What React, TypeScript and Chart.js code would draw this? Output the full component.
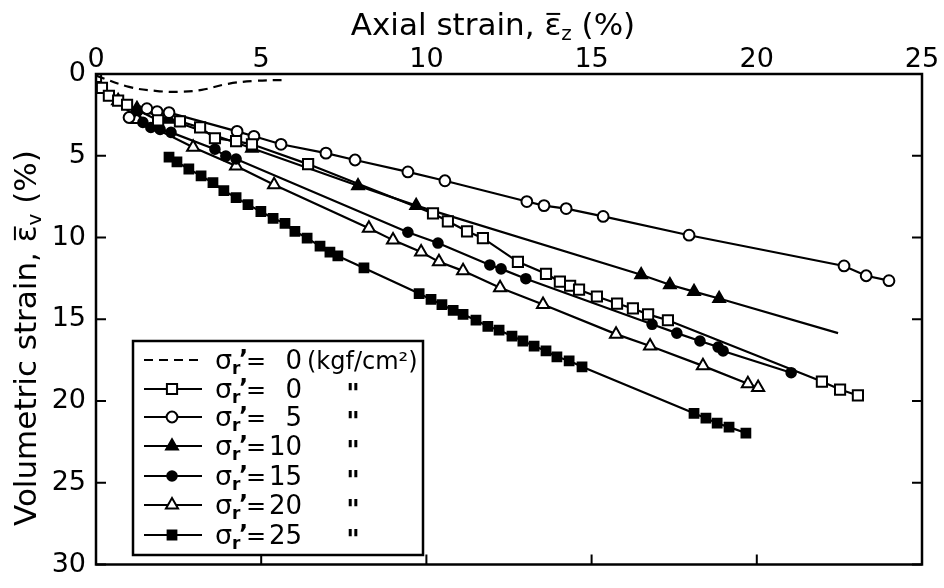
import React, { useEffect, useRef } from "react";
import { Chart, registerables } from "chart.js";
import { drawPoint } from "chart.js/helpers";

Chart.register(...registerables);

// Axial strain (%) and volumetric strain (%) per confining stress σr'
const dashAxial = [0, 1.0, 1.8, 2.5, 3.2, 4.0, 4.8, 5.8];
const dashVol = [0.1, 0.79, 1.03, 1.09, 0.97, 0.6, 0.42, 0.36];

const s0Axial = [0, 0.18, 0.39, 0.67, 0.94, 1.88, 2.54, 3.15, 3.6, 4.24, 4.72, 6.42, 10.2, 10.65, 11.23, 11.71, 12.77, 13.62, 14.04, 14.35, 14.62, 15.16, 15.77, 16.25, 16.71, 17.31, 21.97, 22.52, 23.06];
const s0Vol = [0.18, 0.85, 1.33, 1.63, 1.88, 2.84, 2.9, 3.27, 3.93, 4.11, 4.3, 5.51, 8.53, 9.01, 9.62, 10.04, 11.49, 12.22, 12.7, 12.95, 13.19, 13.61, 14.04, 14.34, 14.7, 15.06, 18.81, 19.3, 19.66];

const s5Axial = [1.0, 1.54, 1.85, 2.21, 4.27, 4.78, 5.6, 6.96, 7.84, 9.44, 10.56, 13.04, 13.56, 14.23, 15.35, 17.95, 22.64, 23.31, 24.0];
const s5Vol = [2.66, 2.12, 2.3, 2.36, 3.51, 3.81, 4.3, 4.84, 5.26, 5.99, 6.53, 7.8, 8.05, 8.23, 8.71, 9.86, 11.74, 12.34, 12.64];

// last entry is the end of the drawn line, without a marker
const s10Axial = [1.24, 2.21, 4.72, 7.93, 9.69, 16.5, 17.37, 18.1, 18.86, 22.46];
const s10Vol = [2.12, 2.78, 4.54, 6.84, 8.05, 12.28, 12.89, 13.31, 13.73, 15.85];

const s15Axial = [1.27, 1.42, 1.66, 1.94, 2.27, 3.6, 3.93, 4.24, 9.44, 10.35, 11.92, 12.26, 13.01, 16.83, 17.58, 18.28, 18.83, 18.98, 21.04];
const s15Vol = [2.24, 2.96, 3.27, 3.39, 3.57, 4.6, 5.02, 5.2, 9.68, 10.34, 11.68, 11.92, 12.52, 15.31, 15.85, 16.33, 16.7, 16.94, 18.27];

const s20Axial = [0.67, 1.24, 2.94, 4.24, 5.39, 8.26, 8.99, 9.84, 10.38, 11.11, 12.23, 13.53, 15.74, 16.77, 18.37, 19.73, 20.04];
const s20Vol = [1.63, 2.78, 4.48, 5.63, 6.78, 9.44, 10.16, 10.89, 11.49, 12.04, 13.07, 14.1, 15.91, 16.64, 17.85, 18.94, 19.18];

const s25Axial = [2.21, 2.45, 2.81, 3.18, 3.54, 3.87, 4.24, 4.6, 4.99, 5.36, 5.72, 6.02, 6.39, 6.78, 7.08, 7.32, 8.11, 9.78, 10.14, 10.47, 10.81, 11.11, 11.5, 11.86, 12.2, 12.59, 12.92, 13.26, 13.62, 13.95, 14.32, 14.71, 18.1, 18.46, 18.8, 19.16, 19.67];
const s25Vol = [5.08, 5.38, 5.81, 6.23, 6.65, 7.14, 7.56, 7.99, 8.41, 8.83, 9.14, 9.62, 10.04, 10.53, 10.89, 11.13, 11.86, 13.43, 13.79, 14.1, 14.46, 14.7, 15.06, 15.43, 15.67, 16.03, 16.33, 16.64, 16.94, 17.3, 17.54, 17.91, 20.75, 21.05, 21.36, 21.6, 21.96];

const xTicks = [0, 5, 10, 15, 20, 25];
const yTicks = [0, 5, 10, 15, 20, 25, 30];

const legendValues = ["0", "0", "5", "10", "15", "20", "25"];

const FONT = "'DejaVu Sans', sans-serif";

const pts = (ax: number[], v: number[]) => ax.map((x, i) => ({ x, y: v[i] }));

type Marker = { style: string; radius: number; filled: boolean };
const markers: (Marker | null)[] = [
  null,
  { style: "rect", radius: 7.2, filled: false },
  { style: "circle", radius: 5.4, filled: false },
  { style: "triangle", radius: 6.8, filled: true },
  { style: "circle", radius: 4.8, filled: true },
  { style: "triangle", radius: 7, filled: false },
  { style: "rect", radius: 6.2, filled: true },
];

type Run = { t: string; size: number; dy?: number; bar?: boolean };

function drawRuns(ctx: CanvasRenderingContext2D, runs: Run[], cx: number, y: number) {
  let total = 0;
  for (const r of runs) {
    ctx.font = `${r.size}px ${FONT}`;
    total += ctx.measureText(r.t).width;
  }
  let x = cx - total / 2;
  ctx.textAlign = "left";
  ctx.textBaseline = "alphabetic";
  for (const r of runs) {
    ctx.font = `${r.size}px ${FONT}`;
    const w = ctx.measureText(r.t).width;
    ctx.fillText(r.t, x, y + (r.dy || 0));
    if (r.bar) {
      ctx.save();
      ctx.lineWidth = 2;
      ctx.beginPath();
      ctx.moveTo(x + 2, y - r.size * 0.68);
      ctx.lineTo(x + w - 1, y - r.size * 0.68);
      ctx.stroke();
      ctx.restore();
    }
    x += w;
  }
}

const decorations = {
  id: "decorations",
  afterDraw(chart: any) {
    const { ctx, chartArea: a, scales } = chart;
    ctx.save();
    ctx.strokeStyle = "#000";
    ctx.fillStyle = "#000";

    // frame and inward ticks
    ctx.lineWidth = 2.5;
    ctx.strokeRect(a.left, a.top, a.right - a.left, a.bottom - a.top);
    ctx.lineWidth = 2;
    ctx.beginPath();
    for (const v of xTicks) {
      const px = scales.x.getPixelForValue(v);
      ctx.moveTo(px, a.bottom);
      ctx.lineTo(px, a.bottom - 10);
    }
    for (const v of yTicks) {
      const py = scales.y.getPixelForValue(v);
      ctx.moveTo(a.left, py);
      ctx.lineTo(a.left + 10, py);
      ctx.moveTo(a.right, py);
      ctx.lineTo(a.right - 10, py);
    }
    ctx.stroke();

    // axis titles
    drawRuns(
      ctx,
      [
        { t: "Axial strain, ", size: 31 },
        { t: "ε", size: 31, bar: true },
        { t: "z", size: 20, dy: 5 },
        { t: " (%)", size: 31 },
      ],
      493,
      35
    );
    ctx.save();
    ctx.translate(36, 338);
    ctx.rotate(-Math.PI / 2);
    drawRuns(
      ctx,
      [
        { t: "Volumetric strain, ", size: 31 },
        { t: "ε", size: 31, bar: true },
        { t: "v", size: 20, dy: 5 },
        { t: " (%)", size: 31 },
      ],
      0,
      0
    );
    ctx.restore();

    // legend
    const bx = 133, by = 341, bw = 290, bh = 214;
    ctx.fillStyle = "#fff";
    ctx.fillRect(bx, by, bw, bh);
    ctx.fillStyle = "#000";
    ctx.lineWidth = 2.5;
    ctx.strokeRect(bx, by, bw, bh);
    const rows = [360, 389, 417, 446, 476, 505, 535];
    rows.forEach((ry, i) => {
      ctx.lineWidth = 2.2;
      ctx.beginPath();
      ctx.setLineDash(i === 0 ? [9, 6] : []);
      ctx.moveTo(144, ry);
      ctx.lineTo(202, ry);
      ctx.stroke();
      ctx.setLineDash([]);
      const m = markers[i];
      if (m) {
        ctx.fillStyle = m.filled ? "#000" : "#fff";
        ctx.lineWidth = 2;
        drawPoint(ctx, { pointStyle: m.style, radius: m.radius, rotation: 0, borderWidth: 2 } as any, 172, ry);
        ctx.fillStyle = "#000";
      }
      ctx.textBaseline = "alphabetic";
      ctx.textAlign = "left";
      ctx.font = `27px ${FONT}`;
      const base = ry + 9;
      ctx.fillText("σ", 215, base);
      ctx.font = `bold 17px ${FONT}`;
      ctx.fillText("r", 232, base + 5);
      ctx.font = `bold 24px ${FONT}`;
      ctx.fillText("’", 239, base - 2);
      ctx.font = `24px ${FONT}`;
      ctx.fillText("=", 246, base);
      ctx.textAlign = "right";
      ctx.font = `26px ${FONT}`;
      ctx.fillText(legendValues[i], 302, base);
      ctx.textAlign = "left";
      if (i === 0) {
        ctx.font = `24px ${FONT}`;
        ctx.fillText("(kgf/cm²)", 307, base);
      } else {
        ctx.font = `bold 26px ${FONT}`;
        ctx.textAlign = "center";
        ctx.fillText('"', 353, ry + 14);
        ctx.textAlign = "left";
      }
    });
    ctx.restore();
  },
};

export default function App() {
  const canvasRef = useRef<HTMLCanvasElement | null>(null);

  useEffect(() => {
    const canvas = canvasRef.current;
    if (!canvas) return;

    const lineDs = (data: { x: number; y: number }[], m: Marker, extra: any = {}) => ({
      data,
      borderColor: "#000",
      borderWidth: 2.2,
      pointStyle: m.style,
      pointRadius: m.radius,
      pointBackgroundColor: m.filled ? "#000" : "#fff",
      pointBorderColor: "#000",
      pointBorderWidth: 2,
      tension: 0,
      fill: false,
      ...extra,
    });

    const chart = new Chart(canvas, {
      type: "line",
      data: {
        datasets: [
          {
            data: pts(dashAxial, dashVol),
            borderColor: "#000",
            borderWidth: 2.2,
            borderDash: [9, 6],
            pointRadius: 0,
            tension: 0.4,
            fill: false,
          },
          lineDs(pts(s0Axial, s0Vol), markers[1] as Marker),
          lineDs(pts(s5Axial, s5Vol), markers[2] as Marker),
          lineDs(pts(s10Axial, s10Vol), markers[3] as Marker, {
            pointRadius: (c: any) => (c.dataIndex === s10Axial.length - 1 ? 0 : (markers[3] as Marker).radius),
          }),
          lineDs(pts(s15Axial, s15Vol), markers[4] as Marker),
          lineDs(pts(s20Axial, s20Vol), markers[5] as Marker),
          lineDs(pts(s25Axial, s25Vol), markers[6] as Marker),
        ] as any,
      },
      options: {
        animation: false,
        responsive: false,
        maintainAspectRatio: false,
        layout: { padding: { left: 0, top: 0, right: 22, bottom: 18 } },
        plugins: { legend: { display: false }, tooltip: { enabled: false } },
        scales: {
          x: {
            type: "linear",
            position: "top",
            min: 0,
            max: 25,
            ticks: {
              stepSize: 5,
              color: "#000",
              font: { family: FONT, size: 27, lineHeight: 1 },
              padding: 1,
              maxRotation: 0,
            },
            grid: { display: false, drawTicks: false },
            border: { display: false },
            afterFit: (s: any) => {
              s.height = 74;
            },
          },
          y: {
            type: "linear",
            reverse: true,
            min: 0,
            max: 30,
            ticks: {
              stepSize: 5,
              color: "#000",
              font: { family: FONT, size: 27, lineHeight: 1 },
              padding: 10,
            },
            grid: { display: false, drawTicks: false },
            border: { display: false },
            afterFit: (s: any) => {
              s.width = 96;
            },
          },
        },
      },
      plugins: [decorations],
    });

    return () => chart.destroy();
  }, []);

  return (
    <div style={{ position: "absolute", left: 0, top: 0, width: 944, height: 588, background: "#fff" }}>
      <canvas ref={canvasRef} width={944} height={588} style={{ width: 944, height: 588 }} />
    </div>
  );
}
